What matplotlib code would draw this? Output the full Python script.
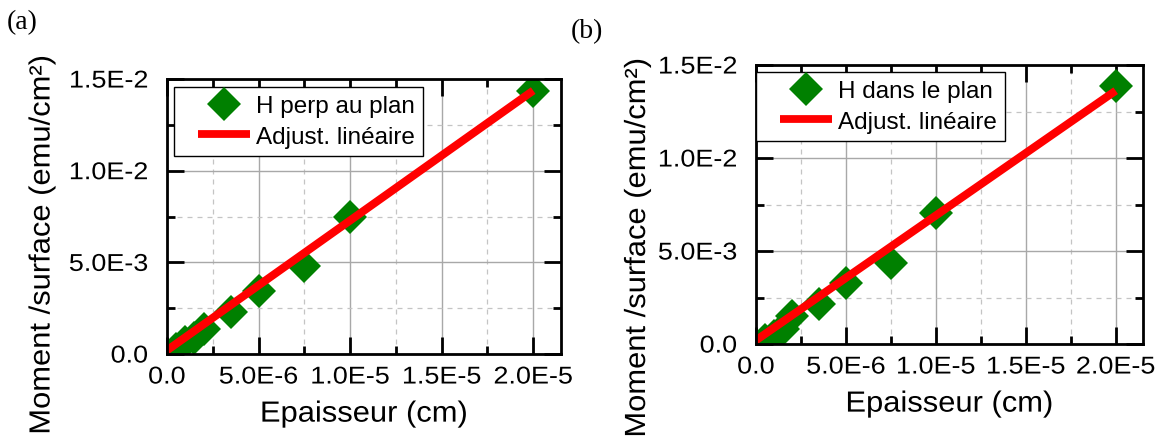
import matplotlib
matplotlib.use("Agg")
import matplotlib.pyplot as plt
from matplotlib.lines import Line2D
from matplotlib.legend_handler import HandlerLine2D
from matplotlib.patheffects import AbstractPathEffect
from matplotlib.transforms import Affine2D

# ---------------- data ----------------
thickness = [5e-7, 1e-6, 1.5e-6, 2e-6, 3.5e-6, 5e-6, 7.5e-6, 1e-5, 2e-5]
moment_perp = [0.0003, 0.00066, 0.0009, 0.00137, 0.00228, 0.00344, 0.00481, 0.00749, 0.01432]
moment_plan = [0.0002, 0.00045, 0.0008, 0.0015, 0.00215, 0.00328, 0.00435, 0.00704, 0.01386]

fit_x = [0.0, 2e-5]
fit_perp = [0.0002, 0.01437]
fit_plan = [0.0002, 0.01362]

xtick_values = [0.0, 5e-6, 1e-5, 1.5e-5, 2e-5]
xtick_labels = ["0.0", "5.0E-6", "1.0E-5", "1.5E-5", "2.0E-5"]
xminor_values = [2.5e-6, 7.5e-6, 1.25e-5, 1.75e-5]
ytick_values = [0.0, 0.005, 0.01, 0.015]
ytick_labels = ["0.0", "5.0E-3", "1.0E-2", "1.5E-2"]
yminor_values = [0.0025, 0.0075, 0.0125]

series_labels = ["H perp au plan", "H dans le plan"]
fit_label = "Adjust. linéaire"
xlabel = "Epaisseur (cm)"
ylabel = "Moment /surface (emu/cm²)"
panel_labels = ["(a)", "(b)"]

plt.rcParams["font.family"] = ["Liberation Sans", "DejaVu Sans"]


class HStretch(AbstractPathEffect):
    """Stretch text horizontally (along its own direction)."""

    def __init__(self, sx, anchor="center"):
        super().__init__()
        self.sx = sx
        self.anchor = anchor

    def draw_path(self, renderer, gc, tpath, affine, rgbFace=None):
        if len(tpath.vertices) == 0:
            renderer.draw_path(gc, tpath, affine, rgbFace)
            return
        ext = tpath.get_extents()
        if self.anchor == "right":
            x0 = ext.x1
        elif self.anchor == "left":
            x0 = ext.x0
        else:
            x0 = 0.5 * (ext.x0 + ext.x1)
        pre = Affine2D().translate(-x0, 0).scale(self.sx, 1.0).translate(x0, 0)
        renderer.draw_path(gc, tpath, pre + affine, rgbFace)


GREEN = "#008000"
RED = "#ff0000"

fig = plt.figure(figsize=(11.57, 4.39), dpi=100)
axA = fig.add_axes([0.1443, 0.1913, 0.3403, 0.6264])
axB = fig.add_axes([0.6534, 0.2141, 0.3342, 0.6355])

configs = [
    (axA, moment_perp, fit_perp, series_labels[0], (0.0178, 0.971), (-0.283, 0.396)),
    (axB, moment_plan, fit_plan, series_labels[1], (0.0, 0.975), (-0.2715, 0.344)),
]

for ax, ys, fy, lab, leg_anchor, ylab_pos in configs:
    ax.plot(thickness, ys, ls="none", marker="D", ms=17, mfc=GREEN, mec=GREEN,
            mew=0, zorder=3)
    ax.plot(fit_x, fy, color=RED, lw=5.8, solid_capstyle="butt", zorder=4)

    ax.set_xlim(0, 2.15e-5)
    ax.set_ylim(0, 0.015)
    ax.set_xticks(xtick_values, labels=xtick_labels)
    ax.set_xticks(xminor_values, minor=True)
    ax.set_yticks(ytick_values, labels=ytick_labels)
    ax.set_yticks(yminor_values, minor=True)

    ax.set_axisbelow(True)
    ax.grid(which="major", color="#a8a8a8", lw=1.0, ls="-")
    ax.grid(which="minor", color="#c4c4c4", lw=0.9, ls=(0, (4, 4)))

    ax.tick_params(which="both", direction="in", top=True, right=True,
                   width=2.0, color="black")
    ax.tick_params(which="major", length=12)
    ax.tick_params(which="minor", length=6)
    ax.tick_params(axis="x", which="major", pad=9.0, labelsize=17.5)
    ax.tick_params(axis="y", which="major", pad=13.5, labelsize=17.5)
    for sp in ax.spines.values():
        sp.set_linewidth(2.0)
        sp.set_zorder(6)

    for t in ax.get_xticklabels():
        t.set_path_effects([HStretch(1.11, "center")])
    for t in ax.get_yticklabels():
        t.set_path_effects([HStretch(1.11, "right")])

    ax.set_xlabel(xlabel, fontsize=21, labelpad=8)
    ax.xaxis.label.set_path_effects([HStretch(1.06, "center")])
    ax.set_ylabel(ylabel, fontsize=21)
    ax.yaxis.set_label_coords(*ylab_pos)
    ax.yaxis.label.set_path_effects([HStretch(1.06, "center")])

    handles = [
        Line2D([], [], ls="none", marker="D", ms=17, mfc=GREEN, mec=GREEN, mew=0),
        Line2D([], [], color=RED, lw=5.6, solid_capstyle="butt"),
    ]
    leg = ax.legend(handles, [lab, fit_label], loc="upper left",
                    bbox_to_anchor=leg_anchor, borderaxespad=0, frameon=True,
                    fancybox=False, edgecolor="black", framealpha=1,
                    fontsize=17.5, handlelength=2.8, handletextpad=0.25,
                    borderpad=0.33, labelspacing=0.36, numpoints=1,
                    handler_map={Line2D: HandlerLine2D(xpad=0.65)})
    leg.get_frame().set_linewidth(1.0)
    leg.set_zorder(7)

fig.text(7 / 1157, 1 - 10 / 439, panel_labels[0], family="Liberation Serif",
         fontsize=20, va="top", ha="left")
fig.text(571 / 1157, 1 - 19 / 439, panel_labels[1], family="Liberation Serif",
         fontsize=20, va="top", ha="left")

fig.savefig("out.png", dpi=100)
